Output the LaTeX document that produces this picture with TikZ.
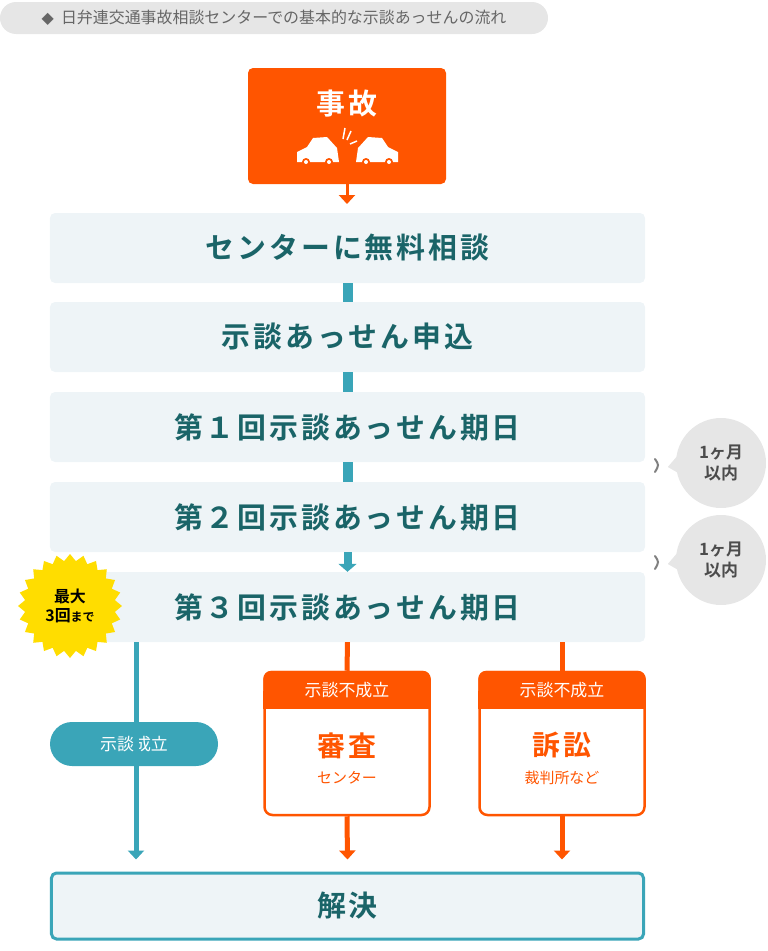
\documentclass[tikz,border=0pt]{standalone}
\usepackage{fontspec}
\setmainfont{Noto Sans CJK JP}
\newfontfamily\jpbold{Noto Sans CJK JP Bold}
\newfontfamily\stepfont[LetterSpace=10]{Noto Sans CJK JP Bold}
\usetikzlibrary{shapes.geometric,arrows.meta}
\definecolor{accorange}{HTML}{FF5500}
\definecolor{stepfill}{HTML}{EEF4F7}
\definecolor{tealtext}{HTML}{1A6468}
\definecolor{tealline}{HTML}{3AA5B8}
\definecolor{bubblegray}{HTML}{E6E6E6}
\definecolor{stargold}{HTML}{FFDD00}
\tikzset{
  stepbox/.style={rectangle, rounded corners=5bp, fill=stepfill, minimum width=595bp,
    minimum height=70bp, text=tealtext, font=\stepfont\fontsize{29}{30}\selectfont},
  stub/.style={tealline, line width=10bp},
  tealarrow/.style={tealline, line width=5bp, -{Triangle[length=9bp,width=16bp]}},
  orangearrow/.style={accorange, line width=5bp, -{Triangle[length=9bp,width=16bp]}},
  monthnote/.style={circle, fill=bubblegray, minimum size=90bp, align=center,
    text=black!70, font=\jpbold\fontsize{17}{21}\selectfont},
  failbox/.style={rectangle, rounded corners=8bp, draw=accorange, line width=2.5bp, fill=white,
    minimum width=165bp, minimum height=143bp},
}
\begin{document}
\begin{tikzpicture}[x=1bp, y=-1bp]
\useasboundingbox (0,0) rectangle (768,951);

% title
\node[rectangle, rounded corners=16bp, fill=bubblegray, minimum width=548bp, minimum height=32bp,
  text=black!60, font=\fontsize{16}{18}\selectfont] (title) at (274,18)
  {{\fontspec{DejaVu Sans}◆}\ \ 日弁連交通事故相談センターでの基本的な示談あっせんの流れ};

% accident
\node[rectangle, rounded corners=5bp, fill=accorange, minimum width=198bp, minimum height=116bp] (jiko) at (347,126) {};
\node[text=white, font=\stepfont\fontsize{29}{32}\selectfont] (jikotext) at (347,104) {事故};
\begin{scope}[fill=white, draw=white]
  \fill (297,162) -- (297,152) -- (307,147) -- (313,138) -- (327,137) -- (337,148) -- (339,162) -- cycle;
  \fill (398,162) -- (398,152) -- (388,147) -- (382,138) -- (368,137) -- (358,148) -- (356,162) -- cycle;
  \fill[accorange] (306,162) circle (4) (329,162) circle (4) (366,162) circle (4) (389,162) circle (4);
  \fill (306,162) circle (2) (329,162) circle (2) (366,162) circle (2) (389,162) circle (2);
  \draw[line width=1.5bp] (343,139) -- (345,128) (347,140) -- (351,131) (350,144) -- (357,141);
\end{scope}
\coordinate (jikoend) at (347,204);
\draw[orangearrow, line width=3bp] (jiko.south) -- (jikoend);

% steps
\node[stepbox] (soudan) at (347.5,248) {センターに無料相談};
\node[stepbox] (moushikomi) at (347.5,337) {示談あっせん申込};
\node[stepbox] (kijitsu1) at (347.5,427) {第１回示談あっせん期日};
\node[stepbox] (kijitsu2) at (347.5,517) {第２回示談あっせん期日};
\node[stepbox] (kijitsu3) at (347.5,607) {第３回示談あっせん期日};
\draw[stub] (soudan.south) -- (moushikomi.north);
\draw[stub] (moushikomi.south) -- (kijitsu1.north);
\draw[stub] (kijitsu1.south) -- (kijitsu2.north);
\draw[tealarrow, line width=8bp, -{Triangle[length=8bp,width=18bp]}] (kijitsu2.south) -- (kijitsu3.north);

% month notes
\node[monthnote] (month1) at (721,463) {1ヶ月\\以内};
\node[monthnote] (month2) at (721,560) {1ヶ月\\以内};
\fill[bubblegray] (month1.west) ++(4,-10) -- ++(-12,14) -- ++(14,8) -- cycle;
\fill[bubblegray] (month2.west) ++(4,-10) -- ++(-12,14) -- ++(14,8) -- cycle;
\draw[black!50, line width=2bp, line cap=round] (655,459) .. controls (659,465) .. (655,472);
\draw[black!50, line width=2bp, line cap=round] (655,556) .. controls (659,562) .. (655,569);

% star
\node[star, star points=24, star point ratio=1.15, fill=stargold, minimum size=104bp,
  align=center, font=\jpbold\fontsize{16}{19}\selectfont, inner sep=0pt] (maxthree) at (70,606)
  {最大\\3回{\fontsize{12}{14}\selectfont まで}};

% outcomes
\node[rectangle, rounded corners=22bp, fill=tealline, minimum width=168bp, minimum height=44bp,
  text=white, font=\fontsize{17}{20}\selectfont] (seiritsu) at (134,744) {示談成立};
\node[failbox] (shinsa) at (347,743.5) {};
\node[failbox] (soshou) at (562,743.5) {};
\foreach \n/\bigword/\subword in {shinsa/審査/センター, soshou/訴訟/裁判所など}{
  \fill[accorange, rounded corners=8bp] (\n.north west) rectangle ([yshift=-38bp]\n.north east);
  \fill[accorange] ([yshift=-20bp]\n.north west) rectangle ([yshift=-38bp]\n.north east);
  \node[text=white, font=\fontsize{17}{20}\selectfont] at ([yshift=-19bp]\n.north) {示談不成立};
  \node[text=accorange, font=\stepfont\fontsize{28}{30}\selectfont] at ([yshift=-2bp]\n.center) {\bigword};
  \node[text=accorange, font=\fontsize{15}{18}\selectfont] at ([yshift=-34bp]\n.center) {\subword};
}

% result
\node[stepbox, draw=tealline, line width=3bp, minimum width=592bp, minimum height=66bp] (kaiketsu) at (347.5,906) {解決};
\coordinate (leftdrop) at (kijitsu3.south -| 136,0);
\coordinate (leftend) at (kaiketsu.north -| 136,0);
\draw[tealarrow] (leftdrop) -- ([yshift=12bp]leftend);
\draw[accorange, line width=5bp] (kijitsu3.south) -- (shinsa.north);
\draw[accorange, line width=5bp] (kijitsu3.south -| soshou.north) -- (soshou.north);
\draw[orangearrow] (shinsa.south) -- ([yshift=12bp]kaiketsu.north);
\draw[orangearrow] (soshou.south) -- ([yshift=12bp]kaiketsu.north -| soshou.south);
\end{tikzpicture}
\end{document}
